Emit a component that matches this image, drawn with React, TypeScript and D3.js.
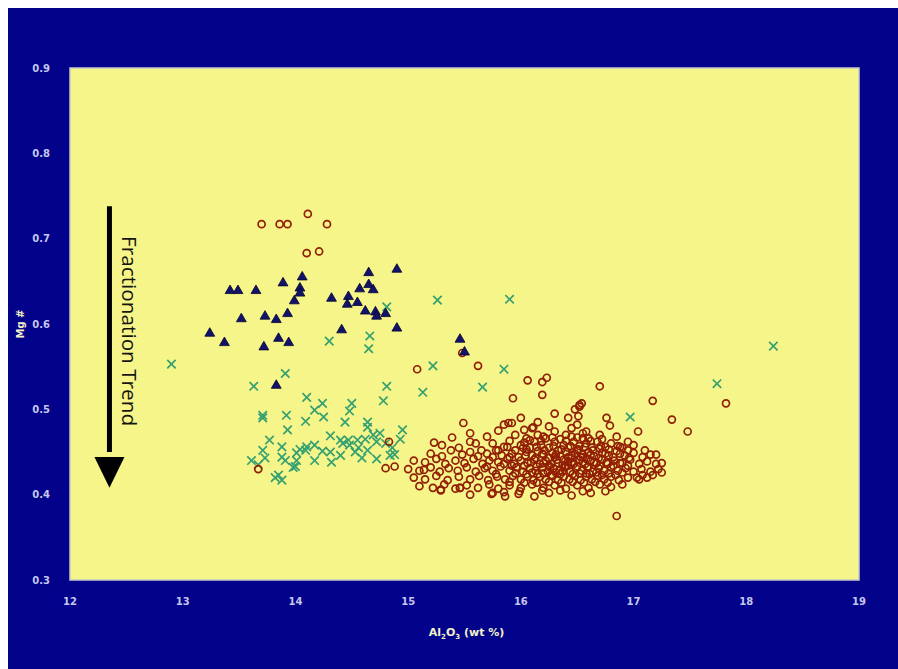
import React, { useRef, useEffect } from 'react';
import * as d3 from 'd3';

// axis ticks
const xTicks = [12, 13, 14, 15, 16, 17, 18, 19];
const yTicks = [0.3, 0.4, 0.5, 0.6, 0.7, 0.8, 0.9];

// blue triangles [Al2O3, Mg#]
const triangles: [number, number][] = [
  [13.42, 0.639], [13.49, 0.639], [13.65, 0.639], [13.89, 0.648], [14.06, 0.655],
  [14.04, 0.642], [14.04, 0.636], [13.99, 0.627], [13.52, 0.606], [13.73, 0.609],
  [13.83, 0.605], [13.93, 0.612], [13.24, 0.589], [13.37, 0.578], [13.72, 0.573],
  [13.85, 0.583], [13.94, 0.578], [13.83, 0.528], [14.32, 0.63], [14.47, 0.632],
  [14.46, 0.623], [14.55, 0.625], [14.65, 0.66], [14.65, 0.646], [14.57, 0.641],
  [14.69, 0.64], [14.62, 0.615], [14.71, 0.614], [14.72, 0.609], [14.8, 0.612],
  [14.41, 0.593], [14.9, 0.664], [14.9, 0.595], [15.46, 0.582], [15.5, 0.567],
];

// green crosses
const crosses: [number, number][] = [
  [12.9, 0.553], [13.91, 0.542], [13.63, 0.527], [14.3, 0.58], [14.66, 0.586],
  [14.65, 0.571], [14.81, 0.62], [15.26, 0.628], [15.9, 0.629], [15.22, 0.551],
  [15.85, 0.547], [14.81, 0.527], [14.78, 0.51], [15.13, 0.52], [15.66, 0.526],
  [16.97, 0.491], [17.74, 0.53], [18.24, 0.574],
  [14.1, 0.514], [14.24, 0.507], [14.17, 0.499], [14.25, 0.491], [14.09, 0.486],
  [14.5, 0.507], [14.48, 0.498], [14.44, 0.485], [14.64, 0.485], [14.64, 0.479],
  [14.31, 0.469], [14.95, 0.476], [14.93, 0.465], [14.4, 0.464], [14.47, 0.464],
  [14.55, 0.464], [14.62, 0.465], [14.69, 0.47], [14.75, 0.472], [14.72, 0.462],
  [14.8, 0.46], [14.86, 0.455], [14.84, 0.446], [14.88, 0.447], [14.72, 0.442],
  [14.64, 0.452], [14.56, 0.455], [14.48, 0.458], [14.42, 0.46], [14.24, 0.451],
  [14.31, 0.45], [14.17, 0.458], [14.09, 0.452], [14.04, 0.453], [14.01, 0.449],
  [14.17, 0.44], [14.32, 0.438], [14.0, 0.433], [13.71, 0.493], [13.92, 0.493],
  [13.71, 0.49], [13.93, 0.476], [13.71, 0.452], [13.73, 0.443], [13.88, 0.456],
  [13.88, 0.444], [13.91, 0.44], [14.1, 0.456], [14.01, 0.44], [13.98, 0.432],
  [13.61, 0.44], [13.85, 0.423], [13.88, 0.417], [13.82, 0.42], [14.53, 0.45],
  [14.59, 0.443], [14.4, 0.446], [13.77, 0.464], [13.67, 0.435],
];

// scattered brown circles
const circlesSparse: [number, number][] = [
  [13.7, 0.717], [13.86, 0.717], [13.93, 0.717], [14.11, 0.729], [14.28, 0.717],
  [14.1, 0.683], [14.21, 0.685], [13.67, 0.43], [15.08, 0.547], [14.83, 0.462],
  [14.8, 0.431], [14.88, 0.433], [15.62, 0.551], [15.48, 0.566], [16.06, 0.534],
  [16.19, 0.532], [16.23, 0.537], [16.19, 0.517], [15.93, 0.513], [16.7, 0.527],
  [17.17, 0.51], [17.82, 0.507], [17.34, 0.488], [17.48, 0.474], [17.04, 0.474],
  [16.76, 0.49], [16.79, 0.481], [16.54, 0.507], [16.52, 0.503], [16.51, 0.492],
  [15.49, 0.484], [15.89, 0.484], [15.92, 0.484], [16.03, 0.476], [16.11, 0.479],
  [15.39, 0.467], [15.23, 0.461], [16.85, 0.375], [17.25, 0.437], [17.25, 0.426],
  [17.2, 0.447], [17.17, 0.423], [15.14, 0.429], [15.29, 0.406], [15.46, 0.408],
  [15.74, 0.401], [15.85, 0.403], [15.99, 0.404], [16.19, 0.405], [16.88, 0.456],
  [17.03, 0.42], [17.08, 0.423],
];

// dense brown cluster
const circlesDense: [number, number][] = [
  [15.55, 0.472], [15.8, 0.475], [15.95, 0.47], [16.1, 0.478], [16.2, 0.468], [16.3, 0.474],
  [16.4, 0.47], [16.45, 0.478], [16.55, 0.472], [16.6, 0.466], [16.7, 0.47], [16.35, 0.465],
  [16.05, 0.466], [15.7, 0.468], [16.85, 0.468], [16.95, 0.462], [15.6, 0.46], [16.5, 0.482],
  [16.25, 0.48], [16.15, 0.485], [16.42, 0.49], [16.48, 0.5], [16.52, 0.505], [16.3, 0.495],
  [16.0, 0.49], [15.85, 0.482],
  [15.3, 0.458], [15.45, 0.455], [15.55, 0.462], [15.65, 0.452], [15.75, 0.46], [15.85, 0.456],
  [15.9, 0.463], [16.0, 0.458], [16.08, 0.455], [16.12, 0.462], [16.18, 0.458], [16.25, 0.455],
  [16.3, 0.462], [16.38, 0.458], [16.42, 0.455], [16.47, 0.462], [16.52, 0.457], [16.58, 0.46],
  [16.63, 0.455], [16.68, 0.462], [16.75, 0.456], [16.8, 0.46], [16.9, 0.455], [17.0, 0.458],
  [17.1, 0.452], [16.22, 0.466], [16.55, 0.466], [15.95, 0.452], [16.03, 0.461], [16.33, 0.452],
  [15.2, 0.448], [15.3, 0.445], [15.38, 0.452], [15.48, 0.447], [15.55, 0.45], [15.62, 0.445],
  [15.7, 0.448], [15.78, 0.452], [15.83, 0.446], [15.92, 0.448], [15.98, 0.444], [16.05, 0.45],
  [16.1, 0.446], [16.15, 0.451], [16.2, 0.447], [16.28, 0.449], [16.35, 0.445], [16.4, 0.45],
  [16.45, 0.446], [16.5, 0.452], [16.55, 0.447], [16.6, 0.45], [16.65, 0.445], [16.72, 0.449],
  [16.78, 0.446], [16.85, 0.451], [16.92, 0.446], [17.0, 0.449], [17.08, 0.444], [17.15, 0.447],
  [16.25, 0.443], [16.38, 0.441], [16.58, 0.442], [16.02, 0.455], [16.7, 0.454],
  [15.15, 0.438], [15.25, 0.442], [15.33, 0.436], [15.42, 0.44], [15.5, 0.437], [15.58, 0.442],
  [15.66, 0.436], [15.72, 0.44], [15.8, 0.438], [15.88, 0.442], [15.94, 0.436], [16.0, 0.44],
  [16.06, 0.437], [16.12, 0.441], [16.17, 0.436], [16.22, 0.44], [16.27, 0.436], [16.32, 0.441],
  [16.37, 0.435], [16.42, 0.439], [16.47, 0.436], [16.52, 0.441], [16.57, 0.436], [16.62, 0.44],
  [16.67, 0.437], [16.72, 0.441], [16.77, 0.436], [16.83, 0.44], [16.9, 0.437], [16.97, 0.441],
  [17.05, 0.436], [17.12, 0.439], [17.2, 0.436], [15.05, 0.44], [16.45, 0.443], [16.3, 0.444],
  [16.55, 0.444],
  [15.0, 0.43], [15.1, 0.428], [15.2, 0.432], [15.28, 0.427], [15.36, 0.431], [15.44, 0.428],
  [15.52, 0.432], [15.6, 0.427], [15.68, 0.431], [15.75, 0.428], [15.82, 0.433], [15.9, 0.428],
  [15.96, 0.432], [16.02, 0.427], [16.08, 0.431], [16.13, 0.428], [16.19, 0.432], [16.24, 0.427],
  [16.29, 0.431], [16.34, 0.428], [16.39, 0.432], [16.44, 0.427], [16.49, 0.431], [16.54, 0.428],
  [16.59, 0.432], [16.64, 0.427], [16.69, 0.431], [16.74, 0.428], [16.8, 0.432], [16.86, 0.428],
  [16.93, 0.431], [17.0, 0.427], [17.07, 0.43], [17.15, 0.427], [17.22, 0.43], [16.42, 0.434],
  [16.58, 0.425], [16.25, 0.434], [16.15, 0.424], [16.35, 0.424],
  [15.05, 0.42], [15.15, 0.418], [15.25, 0.422], [15.35, 0.417], [15.45, 0.421], [15.55, 0.418],
  [15.63, 0.422], [15.71, 0.417], [15.79, 0.421], [15.86, 0.418], [15.93, 0.422], [16.0, 0.418],
  [16.06, 0.421], [16.11, 0.417], [16.17, 0.421], [16.22, 0.418], [16.28, 0.422], [16.33, 0.417],
  [16.38, 0.421], [16.43, 0.418], [16.48, 0.422], [16.53, 0.417], [16.58, 0.421], [16.63, 0.418],
  [16.68, 0.422], [16.74, 0.418], [16.8, 0.421], [16.87, 0.417], [16.95, 0.42], [17.05, 0.418],
  [17.12, 0.42],
  [15.1, 0.41], [15.22, 0.408], [15.32, 0.412], [15.42, 0.407], [15.52, 0.411], [15.62, 0.408],
  [15.72, 0.412], [15.8, 0.407], [15.9, 0.411], [16.0, 0.408], [16.1, 0.412], [16.2, 0.408],
  [16.3, 0.411], [16.4, 0.407], [16.5, 0.411], [16.6, 0.408], [16.7, 0.412], [16.8, 0.409],
  [16.9, 0.412], [15.29, 0.405], [15.46, 0.408],
  [15.55, 0.4], [15.75, 0.402], [15.86, 0.398], [15.98, 0.401], [16.12, 0.398], [16.25, 0.402],
  [16.45, 0.399], [16.62, 0.402],
];

// extra samples in the cluster core
const circlesCore: [number, number][] = [
  [16.08, 0.464], [16.18, 0.463], [16.28, 0.467], [16.4, 0.463], [16.5, 0.467], [16.62, 0.463],
  [16.72, 0.465], [16.15, 0.47], [16.45, 0.468], [16.58, 0.474],
  [16.05, 0.453], [16.14, 0.456], [16.21, 0.452], [16.29, 0.457], [16.36, 0.453], [16.44, 0.457],
  [16.51, 0.453], [16.57, 0.456], [16.64, 0.452], [16.71, 0.457], [16.78, 0.453], [16.86, 0.457],
  [16.95, 0.452], [15.88, 0.456], [15.8, 0.452],
  [16.04, 0.446], [16.13, 0.443], [16.19, 0.448], [16.31, 0.447], [16.42, 0.444], [16.48, 0.448],
  [16.53, 0.444], [16.62, 0.447], [16.69, 0.443], [16.75, 0.448], [16.82, 0.444], [16.88, 0.448],
  [16.96, 0.443], [15.9, 0.444], [15.75, 0.444],
  [16.03, 0.434], [16.09, 0.438], [16.14, 0.433], [16.2, 0.437], [16.26, 0.432], [16.33, 0.437],
  [16.4, 0.433], [16.45, 0.438], [16.5, 0.433], [16.55, 0.438], [16.6, 0.433], [16.65, 0.438],
  [16.7, 0.434], [16.76, 0.438], [16.82, 0.434], [16.88, 0.437], [16.95, 0.434], [15.92, 0.434],
  [15.85, 0.436], [15.7, 0.433],
  [16.05, 0.424], [16.1, 0.426], [16.2, 0.425], [16.27, 0.423], [16.31, 0.426], [16.37, 0.427],
  [16.46, 0.424], [16.52, 0.425], [16.61, 0.424], [16.67, 0.426], [16.72, 0.423], [16.78, 0.425],
  [16.84, 0.423], [16.9, 0.426], [15.95, 0.425], [15.78, 0.424],
  [16.03, 0.414], [16.14, 0.414], [16.25, 0.415], [16.36, 0.414], [16.46, 0.415], [16.56, 0.414],
  [16.66, 0.415], [16.77, 0.414], [15.9, 0.415],
  [16.35, 0.405], [16.55, 0.404], [16.75, 0.404],
];

const width = 890;
const height = 661;
const margin = { top: 60, right: 39, bottom: 89, left: 62 };

const App = () => {
  const svgRef = useRef<SVGSVGElement>(null);

  useEffect(() => {
    const svg = d3.select(svgRef.current);
    svg.selectAll('*').remove();

    const x = d3.scaleLinear().domain([12, 19]).range([margin.left, width - margin.right]);
    const y = d3.scaleLinear().domain([0.3, 0.9]).range([height - margin.bottom, margin.top]);

    // background
    svg.append('rect').attr('width', width).attr('height', height).attr('fill', '#02028a');

    // plot area
    svg.append('rect')
      .attr('x', x(12)).attr('y', y(0.9))
      .attr('width', x(19) - x(12)).attr('height', y(0.3) - y(0.9))
      .attr('fill', '#f5f58a')
      .attr('stroke', '#c9c9c9')
      .attr('stroke-width', 1.5);

    // tick labels
    svg.append('g').selectAll('text').data(xTicks).enter().append('text')
      .attr('x', d => x(d)).attr('y', y(0.3) + 25)
      .attr('text-anchor', 'middle')
      .attr('font-family', 'DejaVu Sans, Verdana, sans-serif')
      .attr('font-size', '10px').attr('font-weight', 'bold')
      .attr('fill', '#c6c6ee')
      .text(d => d);

    svg.append('g').selectAll('text').data(yTicks).enter().append('text')
      .attr('x', x(12) - 20).attr('y', d => y(d)).attr('dy', '0.35em')
      .attr('text-anchor', 'end')
      .attr('font-family', 'DejaVu Sans, Verdana, sans-serif')
      .attr('font-size', '10px').attr('font-weight', 'bold')
      .attr('fill', '#c6c6ee')
      .text(d => d3.format('.1f')(d));

    // axis titles
    const xt = svg.append('text')
      .attr('x', (x(12) + x(19)) / 2 + 2).attr('y', y(0.3) + 56)
      .attr('text-anchor', 'middle')
      .attr('font-family', 'DejaVu Sans, Verdana, sans-serif')
      .attr('font-size', '11px').attr('font-weight', 'bold')
      .attr('fill', '#f2f2c8');
    xt.append('tspan').text('Al');
    xt.append('tspan').attr('font-size', '7px').attr('dy', 3).text('2');
    xt.append('tspan').attr('dy', -3).text('O');
    xt.append('tspan').attr('font-size', '7px').attr('dy', 3).text('3');
    xt.append('tspan').attr('dy', -3).text(' (wt %)');

    svg.append('text')
      .attr('transform', `translate(16, ${(y(0.3) + y(0.9)) / 2}) rotate(-90)`)
      .attr('text-anchor', 'middle')
      .attr('font-family', 'DejaVu Sans, Verdana, sans-serif')
      .attr('font-size', '10px').attr('font-weight', 'bold')
      .attr('fill', '#f2f2c8')
      .text('Mg #');

    // fractionation arrow
    const ax = x(12.35);
    svg.append('line')
      .attr('x1', ax).attr('x2', ax)
      .attr('y1', y(0.738)).attr('y2', y(0.45))
      .attr('stroke', '#000').attr('stroke-width', 5);
    svg.append('path')
      .attr('d', `M${ax - 15},${y(0.444)} L${ax + 15},${y(0.444)} L${ax},${y(0.408)} Z`)
      .attr('fill', '#000');
    svg.append('text')
      .attr('transform', `translate(${ax + 13}, ${y(0.703)}) rotate(90)`)
      .attr('font-family', 'Open Sans, sans-serif')
      .attr('font-size', '20px')
      .attr('fill', '#151510')
      .attr('textLength', 190)
      .attr('lengthAdjust', 'spacingAndGlyphs')
      .text('Fractionation Trend');

    // green crosses
    const cross = d3.symbol(d3.symbolTimes, 48);
    svg.append('g').selectAll('path').data(crosses).enter().append('path')
      .attr('transform', d => `translate(${x(d[0])}, ${y(d[1])})`)
      .attr('d', cross())
      .attr('fill', 'none')
      .attr('stroke', '#35a070')
      .attr('stroke-width', 1.7);

    // brown circles
    svg.append('g').selectAll('circle')
      .data([...circlesSparse, ...circlesDense, ...circlesCore]).enter().append('circle')
      .attr('cx', d => x(d[0])).attr('cy', d => y(d[1]))
      .attr('r', 3.5)
      .attr('fill', 'none')
      .attr('stroke', '#921e06')
      .attr('stroke-width', 1.7);

    // blue triangles
    const tri = d3.symbol(d3.symbolTriangle, 42);
    svg.append('g').selectAll('path').data(triangles).enter().append('path')
      .attr('transform', d => `translate(${x(d[0])}, ${y(d[1])})`)
      .attr('d', tri())
      .attr('fill', '#12126a')
      .attr('stroke', '#050530')
      .attr('stroke-width', 0.8);
  }, []);

  return (
    <svg
      ref={svgRef}
      width={width}
      height={height}
      style={{ position: 'absolute', left: 8, top: 8, display: 'block' }}
    />
  );
};

export default App;
